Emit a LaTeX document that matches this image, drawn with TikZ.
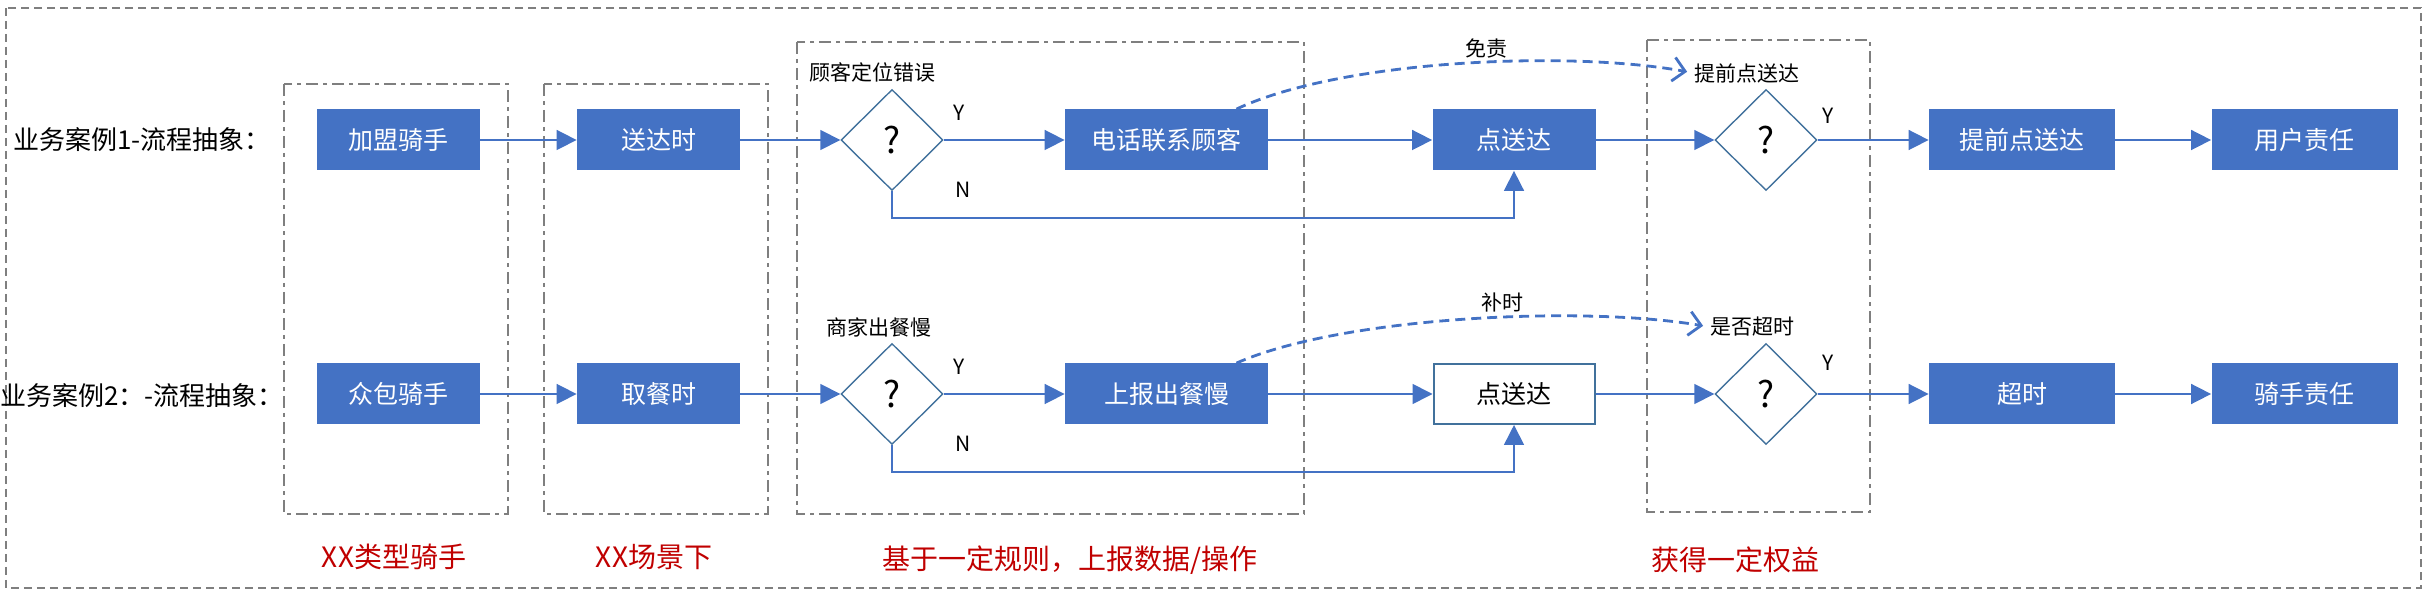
\documentclass[tikz,border=0pt]{standalone}
\usepackage{fontspec}
\setmainfont{Noto Sans CJK SC}
\usetikzlibrary{shapes.geometric,arrows.meta}
\definecolor{boxblue}{HTML}{4472C4}
\definecolor{edgeblue}{HTML}{41719C}
\definecolor{framegray}{HTML}{7F7F7F}
\definecolor{notered}{HTML}{C00000}
\newcommand{\pxfont}[1]{\fontsize{#1}{#1}\selectfont}

\begin{document}
\begin{tikzpicture}[x=0.5pt,y=-0.5pt,
box/.style ={rectangle, fill=boxblue, text=white, minimum width=81.5pt,
  minimum height=30.5pt, inner sep=0pt, font=\pxfont{12.5pt}
},
hollow/.style ={rectangle, draw=edgeblue, line width=1pt, fill=white,
  minimum width=80.5pt, minimum height=30pt, inner sep=0pt, font=\pxfont{12.5pt}
},
check/.style ={diamond, draw=edgeblue, line width=0.7pt, fill=white,
  minimum width=51pt, minimum height=50.5pt, inner sep=0pt, font=\pxfont{18pt}
},
group/.style ={draw=framegray, line width=1pt,
  dash pattern=on 6pt off 2.5pt on 2pt off 2.5pt
},
flow/.style ={draw=boxblue, line width=0.8pt, -{Triangle[length=10pt,width=10pt]}},
hint/.style ={draw=boxblue, line width=1.4pt, dash pattern=on 5pt off 3pt,
  -{Straight Barb[length=6pt,width=12pt]}, shorten >=3.5pt
},
case/.style ={font=\pxfont{13pt}, inner sep=0pt},
tag/.style ={font=\pxfont{10.5pt}, inner sep=0pt},
title/.style ={font=\pxfont{14pt}, text=notered, inner sep=0pt}
]
\useasboundingbox (0,0) rectangle (2430,592);
\draw[framegray, line width=0.8pt, dash pattern=on 4pt off 2.5pt] (6,8) rectangle (2421,588);

\draw[group] (284,84) rectangle (508,514);
\draw[group] (544,84) rectangle (768,514);
\draw[group] (797,42) rectangle (1304,514);
\draw[group] (1647,40) rectangle (1870,512);

\node (case1) at (142,140) [case] {业务案例1-流程抽象：};
\node (case2) at (142,396) [case] {业务案例2：-流程抽象：};

\node (rider1) at (398.5,140) [box] {加盟骑手};
\node (time1) at (658.5,140) [box] {送达时};
\node (dec1) at (892,140) [check] {?};
\node (call1) at (1166.5,140) [box, minimum width=101.5pt] {电话联系顾客};
\node (drop1) at (1514,140) [box] {点送达};
\node (dec2) at (1766,140) [check] {?};
\node (early1) at (2022,140) [box, minimum width=93pt] {提前点送达};
\node (duty1) at (2304.5,140) [box, minimum width=93pt] {用户责任};

\node (rider2) at (398.5,394) [box] {众包骑手};
\node (time2) at (658.5,394) [box] {取餐时};
\node (dec3) at (892,394) [check] {?};
\node (report2) at (1166.5,394) [box, minimum width=101.5pt] {上报出餐慢};
\node (drop2) at (1514,394) [hollow] {点送达};
\node (dec4) at (1766,394) [check] {?};
\node (late2) at (2022,394) [box, minimum width=93pt] {超时};
\node (duty2) at (2304.5,394) [box, minimum width=93pt] {骑手责任};

\node (err1) at (809,72) [tag, anchor=west] {顾客定位错误};
\node (slow2) at (826,327) [tag, anchor=west] {商家出餐慢};
\node (early0) at (1694,73) [tag, anchor=west] {提前点送达};
\node (late0) at (1710,327) [tag, anchor=west] {是否超时};
\node (free1) at (1486,49) [tag] {免责};
\node (add2) at (1502,303) [tag] {补时};

\node (y1) at (959,113) [tag] {Y};
\node (n1) at (963,190) [tag] {N};
\node (y2) at (1828,116) [tag] {Y};
\node (y3) at (959,367) [tag] {Y};
\node (n3) at (963,444) [tag] {N};
\node (y4) at (1828,363) [tag] {Y};

\node (kind) at (394,557) [title] {XX类型骑手};
\node (scene) at (654,557) [title] {XX场景下};
\node (rule) at (1070,560) [title] {基于一定规则，上报数据/操作};
\node (gain) at (1735,560) [title] {获得一定权益};

\draw[flow] (rider1) -- (time1);
\draw[flow] (time1) -- (dec1);
\draw[flow] (dec1) -- (call1);
\draw[flow] (call1) -- (drop1);
\draw[flow] (dec1.south) -- ++(0,27) -| (drop1.south);
\draw[flow] (drop1) -- (dec2);
\draw[flow] (dec2) -- (early1);
\draw[flow] (early1) -- (duty1);
\draw[hint] ([xshift=-16pt]call1.north east) .. controls +(104,-49) and +(-127,-23) .. (early0.west);

\draw[flow] (rider2) -- (time2);
\draw[flow] (time2) -- (dec3);
\draw[flow] (dec3) -- (report2);
\draw[flow] (report2) -- (drop2);
\draw[flow] (dec3.south) -- ++(0,27) -| (drop2.south);
\draw[flow] (drop2) -- (dec4);
\draw[flow] (dec4) -- (late2);
\draw[flow] (late2) -- (duty2);
\draw[hint] ([xshift=-16pt]report2.north east) .. controls +(104,-46) and +(-130,-22) .. (late0.west);

\end{tikzpicture}
\end{document}
